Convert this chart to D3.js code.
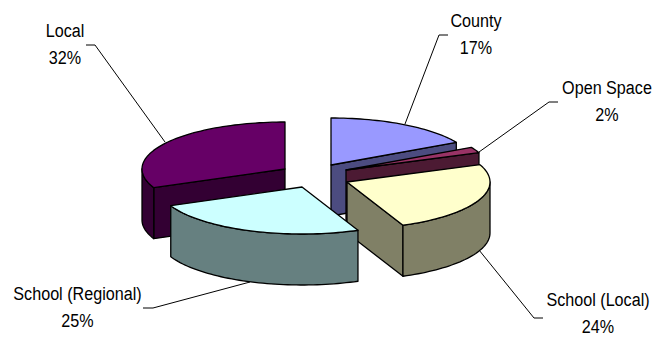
<!DOCTYPE html>
<html><head><meta charset="utf-8">
<script src="https://cdn.jsdelivr.net/npm/d3@7"></script>
<style>html,body{margin:0;background:#fff}svg{display:block}text{font-family:"Liberation Sans",Arial,sans-serif;font-size:19px;fill:#000}</style>
</head><body><svg id="c" width="663" height="337"></svg>
<script>
const categories = ["County","Open Space","School (Local)","School (Regional)","Local"];
const labels = ["17%","2%","24%","25%","32%"];
const values = [17.0,2.0,24.6,24.9,31.5];
const topColors = ["#9999ff","#993366","#ffffcc","#ccffff","#660066"];
const sideColors = ["#4c4c80","#4c1a33","#808066","#668080","#330033"];
const apexes = [[331,165],[346,170],[347,182],[302,187],[285,169]];
const drawOrder = [4,0,1,2,3];
const labelPos = [[476,27],[607,94],[598,305.5],[77.5,300],[65,37]];
const leaders = [
  [[448,35],[439,35],[405,124]],
  [[558,102],[549,102],[479,152]],
  [[543,318],[534,318],[479,250]],
  [[143,308],[153,308],[250,282]],
  [[86,45],[95,45],[165,142]]
];

const rx=143, ry=47, depth=51;
const svg=d3.select("#c");
const arcs=d3.pie().sort(null).value(d=>d)(values);
const line=d3.line();

function pt(c,a,z=0){return [c[0]+rx*Math.sin(a), c[1]-ry*Math.cos(a)+z];}
function rim(c,a0,a1,z){const n=Math.max(2,Math.ceil((a1-a0)/0.03));return d3.range(n+1).map(i=>pt(c,a0+(a1-a0)*i/n,z));}

svg.append("g").selectAll("path").data(leaders).join("path")
  .attr("d",d=>line(d)).attr("fill","none").attr("stroke","#000").attr("stroke-width",1);

drawOrder.forEach(i=>{
  const s=arcs[i], c=apexes[i], g=svg.append("g").attr("stroke","#000").attr("stroke-width",1.3).attr("stroke-linejoin","round");
  const mid=(s.startAngle+s.endAngle)/2, m=pt([0,0],mid);
  [s.startAngle,s.endAngle].forEach(a=>{
    const d=pt([0,0],a), cr=d[0]*m[1]-d[1]*m[0];
    const vis=Math.abs(d[0])>1 && (d[0]>0? cr<0 : cr>0);
    if(vis){const p=pt(c,a);
      g.append("path").attr("fill",sideColors[i])
       .attr("d",line([c,p,[p[0],p[1]+depth],[c[0],c[1]+depth]])+"Z");}
  });
  const w0=Math.max(s.startAngle,Math.PI/2), w1=Math.min(s.endAngle,Math.PI*1.5);
  if(w1>w0){
    g.append("path").attr("fill",sideColors[i])
     .attr("d",line(rim(c,w0,w1,0).concat(rim(c,w0,w1,depth).reverse()))+"Z");
  }
  g.append("path").attr("fill",topColors[i])
   .attr("d",line([c].concat(rim(c,s.startAngle,s.endAngle,0)))+"Z");
});

const t=svg.append("g").attr("text-anchor","middle");
categories.forEach((n,i)=>{
  const g=t.append("g").attr("transform",`translate(${labelPos[i][0]},${labelPos[i][1]}) scale(0.85,1)`);
  g.append("text").attr("y",0).text(n);
  g.append("text").attr("y",27.5).text(labels[i]);
});
</script></body></html>
